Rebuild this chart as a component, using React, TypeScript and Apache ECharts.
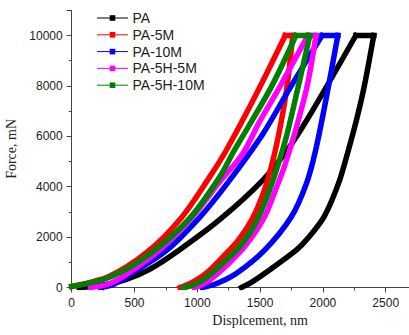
import React, { useEffect, useRef } from "react";
import * as echarts from "echarts";

// Displacement (nm), Force (mN) pairs
const names = ["PA", "PA-5M", "PA-10M", "PA-5H-5M", "PA-5H-10M"];
const colors = ["#000000", "#ff0000", "#0000ff", "#ff00ff", "#008000"];

const paLoad = [[60, 0], [250, 100], [440, 330], [620, 720], [860, 1500], [1180, 2700], [1524, 4274], [1737, 5600], [1922, 7058], [2262, 10000]];
const paUnload = [[2405, 10000], [2330, 8000], [2270, 6700], [2200, 5400], [2125, 4143], [2010, 2815], [1880, 1950], [1790, 1491], [1538, 563], [1430, 200], [1352, 0]];

const pa5mLoad = [[0, 40], [300, 450], [600, 1400], [870, 2750], [1100, 4400], [1233, 5467], [1477, 7750], [1700, 10000]];
const pa5mUnload = [[1760, 10000], [1715, 8000], [1665, 6500], [1600, 5000], [1530, 3800], [1440, 2750], [1330, 1900], [1220, 1300], [1080, 600], [960, 200], [862, 0]];

const pa10mLoad = [[230, 0], [330, 120], [480, 563], [760, 1491], [1024, 2815], [1240, 4143], [1518, 6064], [1730, 7853], [1993, 10000]];
const pa10mUnload = [[2119, 10000], [2030, 7600], [1940, 5400], [1870, 4143], [1750, 2815], [1538, 1491], [1313, 563], [1160, 170], [1040, 0]];

const pa5h5mLoad = [[150, 0], [300, 150], [450, 563], [700, 1491], [960, 2800], [1170, 4143], [1360, 5300], [1498, 6600], [1644, 7850], [1880, 10000]];
const pa5h5mUnload = [[1945, 10000], [1875, 8000], [1780, 6200], [1700, 4900], [1625, 3900], [1535, 2800], [1390, 1700], [1240, 900], [1100, 300], [1020, 70], [975, 0]];

const pa5h10mLoad = [[0, 40], [320, 450], [640, 1400], [940, 2750], [1180, 4400], [1290, 5400], [1583, 7900], [1785, 10000]];
const pa5h10mUnload = [[1896, 10000], [1805, 8000], [1710, 6000], [1632, 4700], [1555, 3600], [1468, 2600], [1350, 1700], [1200, 950], [1060, 350], [960, 80], [890, 0]];

const loads = [paLoad, pa5mLoad, pa10mLoad, pa5h5mLoad, pa5h10mLoad];
const unloads = [paUnload, pa5mUnload, pa10mUnload, pa5h5mUnload, pa5h10mUnload];

const xTickStep = 500;
const yTickStep = 2000;

export default function App() {
  const ref = useRef<HTMLDivElement>(null);
  useEffect(() => {
    if (!ref.current) return;
    const chart = echarts.init(ref.current, undefined, { renderer: "svg" });
    const series: any[] = [];
    names.forEach((name, i) => {
      const color = colors[i];
      const load = loads[i];
      const unload = unloads[i];
      const base = {
        type: "line",
        name,
        showSymbol: false,
        symbol: "rect",
        symbolSize: 6,
        silent: true,
        clip: true,
        itemStyle: { color },
        lineStyle: { color, width: 5.5, cap: "square", join: "miter" },
      };
      series.push({ ...base, data: load, smooth: 0.3 });
      series.push({ ...base, data: [load[load.length - 1], unload[0]], smooth: false });
      series.push({ ...base, data: unload, smooth: 0.3 });
    });
    const tickFont = { fontFamily: "Liberation Sans, Arial, sans-serif", fontSize: 12, color: "#222" };
    const nameFont = { fontFamily: "Liberation Serif, Times New Roman, serif", fontSize: 14, color: "#222" };
    chart.setOption({
      animation: false,
      grid: { left: 71.7, top: 10.3, bottom: 47.5, right: -39.5, containLabel: false, outerBoundsMode: "none" },
      legend: {
        data: names,
        orient: "vertical",
        left: 97,
        top: 11,
        padding: 0,
        itemWidth: 30,
        itemHeight: 7,
        itemGap: 2.8,
        lineStyle: { width: 1 },
        textStyle: { fontFamily: "Liberation Sans, Arial, sans-serif", fontSize: 14, color: "#222" },
      },
      xAxis: {
        type: "value",
        min: 0,
        max: 3000,
        interval: xTickStep,
        name: "Displcement, nm",
        nameLocation: "middle",
        nameGap: 17,
        nameTextStyle: nameFont,
        axisLine: { show: true, onZero: false, lineStyle: { color: "#444", width: 1 } },
        axisTick: { show: true, inside: false, length: 5, lineStyle: { color: "#444" } },
        minorTick: { show: true, splitNumber: 2, length: 3, lineStyle: { color: "#444" } },
        splitLine: { show: false },
        axisLabel: { ...tickFont, margin: 9, showMaxLabel: false, formatter: (v: number) => String(v) },
      },
      yAxis: {
        type: "value",
        min: 0,
        max: 11000,
        interval: yTickStep,
        name: "Force, mN",
        nameLocation: "middle",
        nameGap: 44,
        nameTextStyle: nameFont,
        axisLine: { show: true, onZero: false, lineStyle: { color: "#444", width: 1 } },
        axisTick: { show: true, inside: false, length: 5, lineStyle: { color: "#444" } },
        minorTick: { show: true, splitNumber: 2, length: 3, lineStyle: { color: "#444" } },
        splitLine: { show: false },
        axisLabel: { ...tickFont, margin: 9, showMaxLabel: false, formatter: (v: number) => String(v) },
      },
      series,
    });
    return () => chart.dispose();
  }, []);
  return (
    <div
      ref={ref}
      style={{ position: "absolute", left: 0, top: 0, width: 409, height: 335, background: "#fff" }}
    />
  );
}
